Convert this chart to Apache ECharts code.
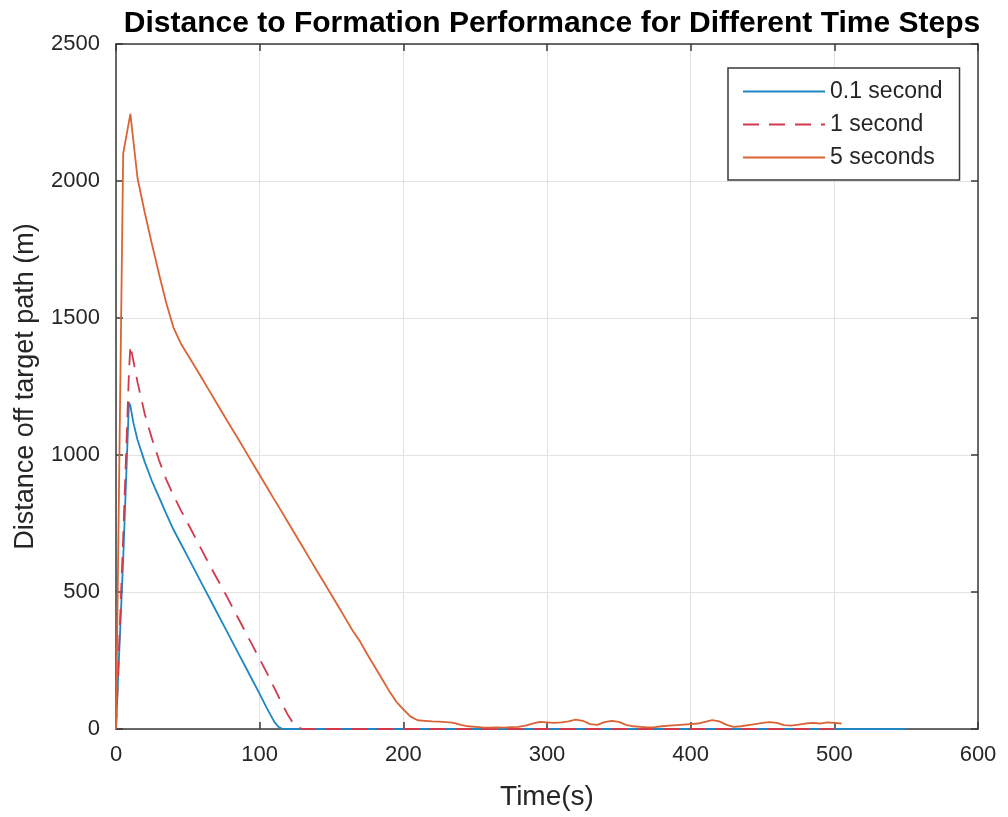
<!DOCTYPE html>
<html>
<head>
<meta charset="utf-8">
<script src="https://cdn.jsdelivr.net/npm/echarts@6/dist/echarts.min.js"></script>
<style>html,body{margin:0;padding:0;background:#fff;}#c{width:1008px;height:817px;}</style>
</head>
<body>
<div id="c"></div>
<script>
var titleText = 'Distance to Formation Performance for Different Time Steps';
var xName = 'Time(s)';
var yName = 'Distance off target path (m)';
var seriesNames = ['0.1 second', '1 second', '5 seconds'];
var xTicks = [0, 100, 200, 300, 400, 500, 600];
var yTicks = [0, 500, 1000, 1500, 2000, 2500];

// 0.1 second series
var tBlue = [0, 2, 5, 9, 10, 12, 15, 20, 25, 30, 35, 40, 45, 50, 55, 60, 65, 70, 75, 80, 85, 90, 95, 100, 105, 110, 113, 116, 120, 200, 300, 400, 500, 550];
var vBlue = [0, 250, 620, 1192, 1180, 1120, 1055, 975, 905, 845, 785, 728, 678, 628, 578, 528, 478, 428, 378, 328, 278, 228, 178, 128, 76, 28, 8, 0, 0, 0, 0, 0, 0, 0];

// 1 second series
var tRed = [0, 5, 9, 10, 15, 20, 25, 30, 35, 40, 45, 50, 55, 60, 65, 70, 75, 80, 85, 90, 95, 100, 105, 110, 115, 120, 125, 130, 200, 300, 400, 500];
var vRed = [0, 700, 1300, 1400, 1265, 1150, 1060, 980, 910, 852, 800, 750, 700, 650, 600, 552, 505, 455, 405, 355, 305, 255, 205, 152, 98, 48, 8, 0, 0, 0, 0, 0];

// 5 seconds series
var tOrange = [0, 5, 10, 15, 20, 25, 30, 35, 40, 45, 50, 55, 60, 65, 70, 75, 80, 85, 90, 95, 100, 105, 110, 115, 120, 125, 130, 135, 140, 145, 150, 155, 160, 165, 170, 175, 180, 185, 190, 195, 200, 205, 210, 215, 220, 225, 230, 235, 240, 245, 250, 255, 260, 265, 270, 275, 280, 285, 290, 295, 300, 305, 310, 315, 320, 325, 330, 335, 340, 345, 350, 355, 360, 365, 370, 375, 380, 385, 390, 395, 400, 405, 410, 415, 420, 425, 430, 435, 440, 445, 450, 455, 460, 465, 470, 475, 480, 485, 490, 495, 500, 505];
var vOrange = [0, 2100, 2245, 2010, 1885, 1770, 1660, 1555, 1465, 1408, 1365, 1322, 1278, 1234, 1190, 1146, 1102, 1059, 1015, 971, 927, 883, 839, 796, 752, 708, 664, 620, 576, 533, 489, 445, 401, 357, 318, 272, 228, 184, 140, 100, 72, 45, 32, 30, 28, 27, 25, 22, 15, 10, 8, 6, 5, 6, 5, 7, 8, 12, 20, 26, 24, 22, 24, 28, 34, 30, 18, 15, 25, 30, 26, 15, 10, 8, 6, 7, 10, 12, 14, 16, 18, 20, 26, 32, 28, 15, 8, 10, 14, 18, 22, 25, 22, 14, 12, 16, 20, 22, 20, 24, 22, 20];

function pairs(t, v) { return t.map(function (x, i) { return [x, v[i]]; }); }

var colors = ['#1f86c2', '#d3394c', '#da6335'];
var FONT = '"Liberation Sans", Arial, sans-serif';
var axisColor = '#3a3a3a';
var tickLabelColor = '#262626';

var chart = echarts.init(document.getElementById('c'), null, { renderer: 'canvas' });

function plain(v) { return String(v); }

function xAxisBase(pos, showLabels) {
  return {
    type: 'value', position: pos, min: xTicks[0], max: xTicks[xTicks.length - 1], interval: 100,
    name: showLabels ? xName : '', nameLocation: 'middle', nameGap: 54,
    nameTextStyle: { fontFamily: FONT, fontSize: 28, color: tickLabelColor },
    axisLine: { show: true, onZero: false, lineStyle: { color: axisColor, width: 1.5 } },
    axisTick: { show: true, inside: true, length: 7, lineStyle: { color: axisColor, width: 1.5 } },
    axisLabel: { show: showLabels, formatter: plain, fontFamily: FONT, fontSize: 22, color: tickLabelColor, margin: 15 },
    splitLine: { show: showLabels, lineStyle: { color: '#e2e2e2', width: 1 } }
  };
}
function yAxisBase(pos, showLabels) {
  return {
    type: 'value', position: pos, min: yTicks[0], max: yTicks[yTicks.length - 1], interval: 500,
    name: showLabels ? yName : '', nameLocation: 'middle', nameGap: 77,
    nameTextStyle: { fontFamily: FONT, fontSize: 27, color: tickLabelColor },
    axisLine: { show: true, onZero: false, lineStyle: { color: axisColor, width: 1.5 } },
    axisTick: { show: true, inside: true, length: 7, lineStyle: { color: axisColor, width: 1.5 } },
    axisLabel: { show: showLabels, formatter: plain, fontFamily: FONT, fontSize: 22, color: tickLabelColor, margin: 16 },
    splitLine: { show: showLabels, lineStyle: { color: '#e2e2e2', width: 1 } }
  };
}

chart.setOption({
  animation: false,
  backgroundColor: '#ffffff',
  color: colors,
  title: {
    text: titleText, left: 547, top: 4, textAlign: 'center',
    textStyle: { fontFamily: FONT, fontSize: 30, fontWeight: 'bold', color: '#000' }
  },
  grid: { left: 116, right: 30, top: 44, bottom: 88, containLabel: false },
  xAxis: [xAxisBase('bottom', true), xAxisBase('top', false)],
  yAxis: [yAxisBase('left', true), yAxisBase('right', false)],
  legend: {
    orient: 'vertical', left: 728, top: 68,
    padding: [12, 17, 11, 14],
    itemWidth: 82, itemHeight: 20, itemGap: 10,
    backgroundColor: '#ffffff', borderColor: '#3a3a3a', borderWidth: 1.5,
    itemStyle: { opacity: 0 },
    textStyle: { fontFamily: FONT, fontSize: 23, color: tickLabelColor },
    data: seriesNames
  },
  series: [
    { name: seriesNames[0], type: 'line', symbol: 'none', data: pairs(tBlue, vBlue),
      lineStyle: { width: 1.8, color: colors[0] }, z: 3 },
    { name: seriesNames[1], type: 'line', symbol: 'none', data: pairs(tRed, vRed),
      lineStyle: { width: 1.8, color: colors[1], type: [16, 10] }, z: 4 },
    { name: seriesNames[2], type: 'line', symbol: 'none', data: pairs(tOrange, vOrange),
      lineStyle: { width: 1.8, color: colors[2] }, z: 5 }
  ]
});
</script>
</body>
</html>
